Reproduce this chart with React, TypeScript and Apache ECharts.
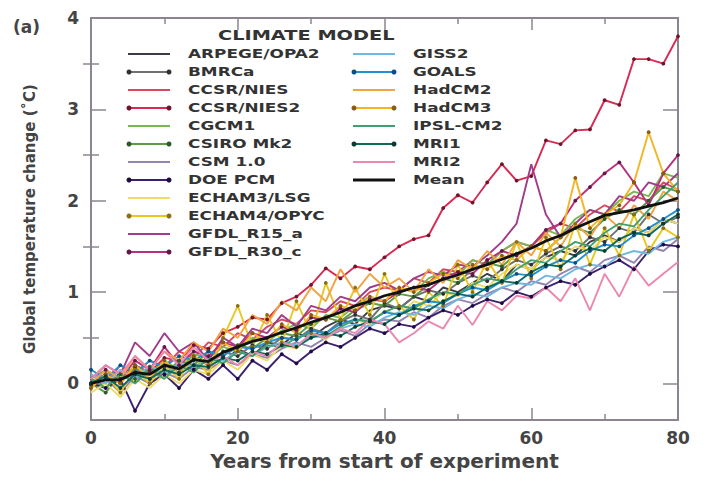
import React, { useEffect, useRef } from "react";
import * as echarts from "echarts";

const years = [0, 2, 4, 6, 8, 10, 12, 14, 16, 18, 20, 22, 24, 26, 28, 30, 32, 34, 36, 38, 40, 42, 44, 46, 48, 50, 52, 54, 56, 58, 60, 62, 64, 66, 68, 70, 72, 74, 76, 78, 80];

const arpege = [0.05, -0.05, 0.12, 0.02, 0.15, 0.08, 0.22, 0.15, 0.30, 0.22, 0.38, 0.30, 0.45, 0.42, 0.55, 0.50, 0.62, 0.70, 0.65, 0.80, 0.85, 0.82, 0.95, 0.90, 1.05, 1.00, 1.10, 1.20, 1.12, 1.30, 1.25, 1.38, 1.45, 1.40, 1.55, 1.62, 1.55, 1.70, 1.65, 1.80, 1.75];
const bmrca = [-0.02, 0.10, 0.00, 0.18, 0.05, 0.20, 0.12, 0.28, 0.20, 0.35, 0.30, 0.42, 0.38, 0.50, 0.48, 0.60, 0.55, 0.68, 0.75, 0.70, 0.88, 0.82, 0.95, 1.02, 0.98, 1.10, 1.18, 1.12, 1.25, 1.35, 1.30, 1.42, 1.50, 1.45, 1.60, 1.55, 1.70, 1.65, 1.85, 1.75, 1.82];
const ccsrNies = [0.10, 0.00, 0.20, 0.10, 0.25, 0.18, 0.35, 0.28, 0.45, 0.40, 0.55, 0.48, 0.62, 0.70, 0.65, 0.80, 0.78, 0.90, 0.85, 1.00, 1.05, 1.02, 1.15, 1.10, 1.25, 1.22, 1.35, 1.30, 1.45, 1.55, 1.50, 1.65, 1.75, 1.70, 1.85, 1.95, 1.88, 2.05, 2.00, 2.20, 2.12];
const ccsrNies2 = [0.00, 0.10, 0.02, 0.20, 0.12, 0.28, 0.25, 0.42, 0.38, 0.55, 0.62, 0.72, 0.70, 0.88, 0.95, 1.08, 1.26, 1.15, 1.28, 1.25, 1.38, 1.50, 1.58, 1.62, 1.92, 2.06, 1.98, 2.20, 2.40, 2.22, 2.27, 2.66, 2.62, 2.77, 2.78, 3.10, 3.05, 3.55, 3.55, 3.50, 3.80];
const cgcm1 = [0.05, 0.15, 0.00, 0.20, 0.10, 0.25, 0.15, 0.32, 0.28, 0.40, 0.35, 0.50, 0.45, 0.58, 0.65, 0.60, 0.75, 0.72, 0.85, 0.95, 0.90, 1.05, 1.00, 1.15, 1.22, 1.18, 1.35, 1.30, 1.45, 1.55, 1.50, 1.68, 1.62, 1.80, 1.90, 1.85, 2.00, 2.10, 2.05, 2.30, 2.25];
const csiro = [0.00, -0.10, 0.10, 0.05, 0.18, 0.10, 0.25, 0.20, 0.35, 0.30, 0.42, 0.38, 0.50, 0.55, 0.52, 0.65, 0.72, 0.68, 0.80, 0.88, 0.85, 0.98, 0.95, 1.08, 1.15, 1.10, 1.25, 1.32, 1.28, 1.42, 1.50, 1.45, 1.60, 1.70, 1.65, 1.80, 1.90, 1.85, 2.00, 2.15, 2.10];
const csm = [-0.05, 0.05, -0.10, 0.08, 0.00, 0.12, 0.05, 0.18, 0.15, 0.25, 0.20, 0.32, 0.28, 0.38, 0.45, 0.40, 0.50, 0.58, 0.52, 0.65, 0.70, 0.68, 0.78, 0.72, 0.85, 0.92, 0.88, 0.98, 1.05, 1.00, 1.12, 1.08, 1.20, 1.28, 1.22, 1.35, 1.40, 1.32, 1.50, 1.45, 1.58];
const doePcm = [0.00, -0.05, 0.05, -0.30, 0.00, 0.10, -0.05, 0.15, 0.05, 0.20, 0.05, 0.25, 0.15, 0.32, 0.22, 0.35, 0.45, 0.40, 0.50, 0.60, 0.55, 0.65, 0.62, 0.72, 0.80, 0.75, 0.85, 0.92, 0.88, 1.00, 0.95, 1.05, 1.12, 1.08, 1.20, 1.28, 1.35, 1.25, 1.45, 1.52, 1.50];
const echam3 = [-0.10, 0.00, -0.15, 0.05, -0.05, 0.10, 0.00, 0.15, 0.10, 0.25, 0.15, 0.32, 0.25, 0.42, 0.38, 0.55, 0.48, 0.62, 0.70, 0.65, 0.80, 0.75, 0.90, 0.85, 1.00, 0.95, 1.10, 1.05, 1.20, 1.30, 1.25, 1.38, 1.35, 1.50, 1.45, 1.60, 1.55, 1.70, 1.65, 1.80, 1.75];
const echam4 = [-0.05, 0.10, -0.10, 0.15, 0.00, 0.20, 0.05, 0.30, 0.10, 0.50, 0.85, 0.40, 0.75, 0.45, 0.90, 0.55, 1.10, 0.70, 1.05, 0.75, 1.20, 0.85, 0.70, 1.00, 0.85, 1.30, 1.00, 1.35, 1.10, 1.55, 1.15, 1.60, 1.25, 1.75, 1.30, 1.70, 1.40, 1.85, 1.45, 1.70, 1.60];
const gfdlR15 = [0.05, 0.20, 0.10, 0.45, 0.30, 0.55, 0.35, 0.45, 0.25, 0.50, 0.40, 0.60, 0.55, 0.75, 0.62, 0.85, 0.80, 0.95, 0.90, 1.05, 1.10, 1.02, 1.15, 1.22, 1.18, 1.30, 1.28, 1.40, 1.55, 1.75, 2.40, 1.85, 1.60, 1.75, 1.90, 1.85, 2.05, 2.00, 2.20, 2.15, 2.30];
const gfdlR30 = [0.00, 0.15, 0.05, 0.25, 0.15, 0.40, 0.20, 0.35, 0.30, 0.45, 0.40, 0.55, 0.50, 0.62, 0.58, 0.72, 0.70, 0.82, 0.78, 0.92, 0.90, 1.00, 1.05, 1.02, 1.15, 1.22, 1.20, 1.35, 1.45, 1.40, 1.50, 1.68, 1.75, 2.00, 2.15, 2.30, 2.42, 2.20, 1.95, 2.30, 2.50];
const giss2 = [0.10, 0.00, 0.15, 0.05, 0.20, 0.10, 0.22, 0.18, 0.28, 0.25, 0.35, 0.30, 0.40, 0.45, 0.42, 0.52, 0.50, 0.60, 0.65, 0.62, 0.72, 0.78, 0.75, 0.85, 0.82, 0.92, 0.98, 0.95, 1.05, 1.10, 1.08, 1.18, 1.15, 1.25, 1.30, 1.28, 1.40, 1.45, 1.42, 1.55, 1.60];
const goals = [0.15, 0.05, 0.20, 0.12, 0.25, 0.18, 0.30, 0.25, 0.35, 0.30, 0.40, 0.38, 0.45, 0.50, 0.48, 0.58, 0.55, 0.65, 0.70, 0.68, 0.78, 0.75, 0.85, 0.90, 0.88, 0.98, 1.05, 1.02, 1.12, 1.20, 1.18, 1.28, 1.35, 1.32, 1.45, 1.52, 1.50, 1.62, 1.70, 1.80, 1.90];
const hadcm2 = [0.00, 0.15, 0.05, 0.30, 0.15, 0.35, 0.25, 0.45, 0.35, 0.60, 0.50, 0.75, 0.65, 0.90, 0.80, 1.05, 0.90, 1.25, 1.00, 1.20, 1.05, 1.15, 1.00, 1.25, 1.10, 1.35, 1.25, 1.45, 1.30, 1.55, 1.40, 1.65, 1.50, 1.75, 1.60, 1.85, 1.70, 1.95, 1.80, 2.10, 2.00];
const hadcm3 = [-0.05, 0.10, 0.00, 0.20, 0.05, 0.25, 0.10, 0.30, 0.20, 0.45, 0.35, 0.55, 0.45, 0.65, 0.55, 0.75, 0.70, 0.85, 0.80, 0.95, 0.90, 1.05, 1.00, 1.10, 1.20, 1.15, 1.30, 1.25, 1.40, 1.35, 1.50, 1.45, 1.60, 2.25, 1.70, 1.85, 1.95, 2.20, 2.75, 2.30, 2.10];
const ipsl = [0.05, -0.05, 0.10, 0.00, 0.15, 0.05, 0.20, 0.12, 0.28, 0.22, 0.35, 0.30, 0.42, 0.40, 0.50, 0.55, 0.52, 0.62, 0.70, 0.68, 0.78, 0.85, 0.82, 0.92, 1.00, 0.98, 1.08, 1.15, 1.12, 1.25, 1.35, 1.32, 1.45, 1.55, 1.50, 1.65, 1.75, 1.72, 1.90, 2.05, 2.20];
const mri1 = [0.00, 0.08, -0.05, 0.10, 0.05, 0.15, 0.10, 0.20, 0.18, 0.28, 0.25, 0.35, 0.32, 0.42, 0.40, 0.50, 0.55, 0.52, 0.62, 0.68, 0.65, 0.75, 0.82, 0.80, 0.90, 0.98, 0.95, 1.05, 1.12, 1.10, 1.22, 1.30, 1.28, 1.40, 1.48, 1.45, 1.58, 1.65, 1.62, 1.75, 1.85];
const mri2 = [0.05, 0.20, 0.10, 0.30, 0.15, 0.35, 0.20, 0.40, 0.25, 0.30, 0.20, 0.35, 0.30, 0.45, 0.40, 0.55, 0.50, 0.60, 0.55, 0.70, 0.65, 0.45, 0.55, 0.68, 0.60, 0.85, 0.64, 0.90, 0.80, 0.96, 0.93, 1.05, 0.90, 1.15, 0.80, 1.20, 0.95, 1.28, 1.07, 1.20, 1.33];
const meanValues = [0.00, 0.04, 0.04, 0.12, 0.10, 0.20, 0.16, 0.26, 0.24, 0.34, 0.40, 0.46, 0.50, 0.56, 0.61, 0.67, 0.72, 0.78, 0.85, 0.90, 0.96, 1.00, 1.05, 1.08, 1.14, 1.19, 1.25, 1.30, 1.36, 1.42, 1.48, 1.56, 1.62, 1.70, 1.77, 1.84, 1.87, 1.90, 1.94, 1.98, 2.03];

const modelNames = ["ARPEGE/OPA2", "BMRCa", "CCSR/NIES", "CCSR/NIES2", "CGCM1", "CSIRO Mk2", "CSM 1.0", "DOE PCM", "ECHAM3/LSG", "ECHAM4/OPYC", "GFDL_R15_a", "GFDL_R30_c", "GISS2", "GOALS", "HadCM2", "HadCM3", "IPSL-CM2", "MRI1", "MRI2", "Mean"];
const modelValues = [arpege, bmrca, ccsrNies, ccsrNies2, cgcm1, csiro, csm, doePcm, echam3, echam4, gfdlR15, gfdlR30, giss2, goals, hadcm2, hadcm3, ipsl, mri1, mri2, meanValues];
const lineColors = ["#3c3c48", "#707070", "#d8485e", "#d82a52", "#78b850", "#5c9c48", "#9484b0", "#3c2070", "#f0dc6c", "#e8c820", "#a03c8c", "#b8307a", "#70b8e0", "#2290d0", "#f0a444", "#f4b424", "#40a070", "#106a5c", "#ec88b0", "#111111"];
const dotColors = ["", "#303030", "", "#70142a", "", "#2c5a24", "", "#1c0a40", "", "#8a7010", "", "#601848", "", "#0c4c80", "", "#8a5c10", "", "#063a32", "", ""];

const yLabelValues = [0, 1, 2, 3, 4];
const yMinorValues = [0.5, 1.5, 2.5, 3.5];

const AXIS_COLOR = "#8c8490";
const FONT = "DejaVu Sans";

export default function App() {
  const ref = useRef<HTMLDivElement>(null);

  useEffect(() => {
    if (!ref.current) return;
    const chart = echarts.init(ref.current, null, { renderer: "svg" });

    const series: any[] = modelNames.map((name, k) => {
      const hasDot = dotColors[k] !== "";
      const isMean = name === "Mean";
      return {
        name,
        type: "line",
        data: years.map((x, i) => [x, modelValues[k][i]]),
        symbol: hasDot ? "circle" : "none",
        showSymbol: hasDot,
        symbolSize: 3.8,
        itemStyle: { color: hasDot ? dotColors[k] : lineColors[k] },
        lineStyle: { color: lineColors[k], width: isMean ? 2.8 : 1.9 },
        z: isMean ? 5 : 2,
        silent: true,
        clip: true,
      };
    });

    // Legend drawn as graphic elements (line sample, end dots, label)
    const legendEls: any[] = [];
    modelNames.forEach((name, k) => {
      const col = k < 12 ? 0 : 1;
      const row = col === 0 ? k : k - 12;
      const y = 54 + 18 * row;
      const x0 = col === 0 ? 128 : 353;
      const x1 = x0 + 42;
      const hasDot = dotColors[k] !== "";
      legendEls.push({
        type: "line",
        shape: { x1: x0, y1: y, x2: x1, y2: y },
        style: { stroke: lineColors[k], lineWidth: name === "Mean" ? 2.8 : 2 },
        silent: true,
      });
      if (hasDot) {
        legendEls.push({ type: "circle", shape: { cx: x0 + 1, cy: y, r: 2.5 }, style: { fill: dotColors[k] }, silent: true });
        legendEls.push({ type: "circle", shape: { cx: x1 - 1, cy: y, r: 2.5 }, style: { fill: dotColors[k] }, silent: true });
      }
      legendEls.push({
        type: "text",
        x: x0 + 60,
        y,
        scaleX: 1.3,
        silent: true,
        style: { text: name, fontFamily: FONT, fontWeight: "bold", fontSize: 13, fill: "#333", textVerticalAlign: "middle" },
      });
    });

    const xBase = {
      type: "value",
      min: 0,
      max: 80,
      interval: 20,
      splitLine: { show: false },
      axisLine: { show: true, onZero: false, lineStyle: { color: AXIS_COLOR, width: 2 } },
      axisTick: { show: true, inside: true, length: 12, lineStyle: { color: AXIS_COLOR, width: 1.5 } },
      minorTick: { show: true, splitNumber: 2, length: 6, lineStyle: { color: AXIS_COLOR, width: 1.5 } },
    };

    const yMajor = (pos: string, labels: boolean) => ({
      type: "value",
      position: pos,
      min: -0.4,
      max: 4,
      splitLine: { show: false },
      axisLine: { show: true, onZero: false, lineStyle: { color: AXIS_COLOR, width: 2 } },
      axisTick: { show: true, inside: true, length: 15, customValues: yLabelValues, lineStyle: { color: AXIS_COLOR, width: 1.5 } },
      axisLabel: labels
        ? { show: true, customValues: yLabelValues, margin: 12, fontFamily: FONT, fontWeight: "bold", fontSize: 17, color: "#444" }
        : { show: false },
      ...(labels
        ? {
            name: "Global temperature change (\u02DAC)",
            nameLocation: "middle",
            nameGap: 54,
            nameTextStyle: { fontFamily: FONT, fontWeight: "bold", fontSize: 15, color: "#444" },
          }
        : {}),
    });

    const yMinor = (pos: string) => ({
      type: "value",
      position: pos,
      min: -0.4,
      max: 4,
      splitLine: { show: false },
      axisLine: { show: false },
      axisTick: { show: true, inside: true, length: 8, customValues: yMinorValues, lineStyle: { color: AXIS_COLOR, width: 1.5 } },
      axisLabel: { show: false },
    });

    chart.setOption({
      animation: false,
      backgroundColor: "#ffffff",
      grid: { left: 91, right: 34, top: 18, bottom: 66, containLabel: false },
      xAxis: [
        {
          ...xBase,
          position: "bottom",
          axisLabel: { show: true, margin: 9, fontFamily: FONT, fontWeight: "bold", fontSize: 17, color: "#444" },
          name: "Years from start of experiment",
          nameLocation: "middle",
          nameGap: 30,
          nameTextStyle: { fontFamily: FONT, fontWeight: "bold", fontSize: 20, color: "#444" },
        },
        { ...xBase, position: "top", axisLabel: { show: false } },
      ],
      yAxis: [yMajor("left", true), yMinor("left"), yMajor("right", false), yMinor("right")],
      graphic: [
        {
          type: "text",
          x: 13,
          y: 27,
          style: { text: "(a)", fontFamily: FONT, fontWeight: "bold", fontSize: 17, fill: "#444", textVerticalAlign: "middle" },
        },
        {
          type: "text",
          x: 218,
          y: 35,
          scaleX: 1.38,
          style: { text: "CLIMATE MODEL", fontFamily: FONT, fontWeight: "bold", fontSize: 14, fill: "#333", textVerticalAlign: "middle" },
        },
        ...legendEls,
      ],
      series,
    });

    return () => chart.dispose();
  }, []);

  return (
    <div
      ref={ref}
      style={{ position: "absolute", left: 0, top: 0, width: 712, height: 486, background: "#fff" }}
    />
  );
}
